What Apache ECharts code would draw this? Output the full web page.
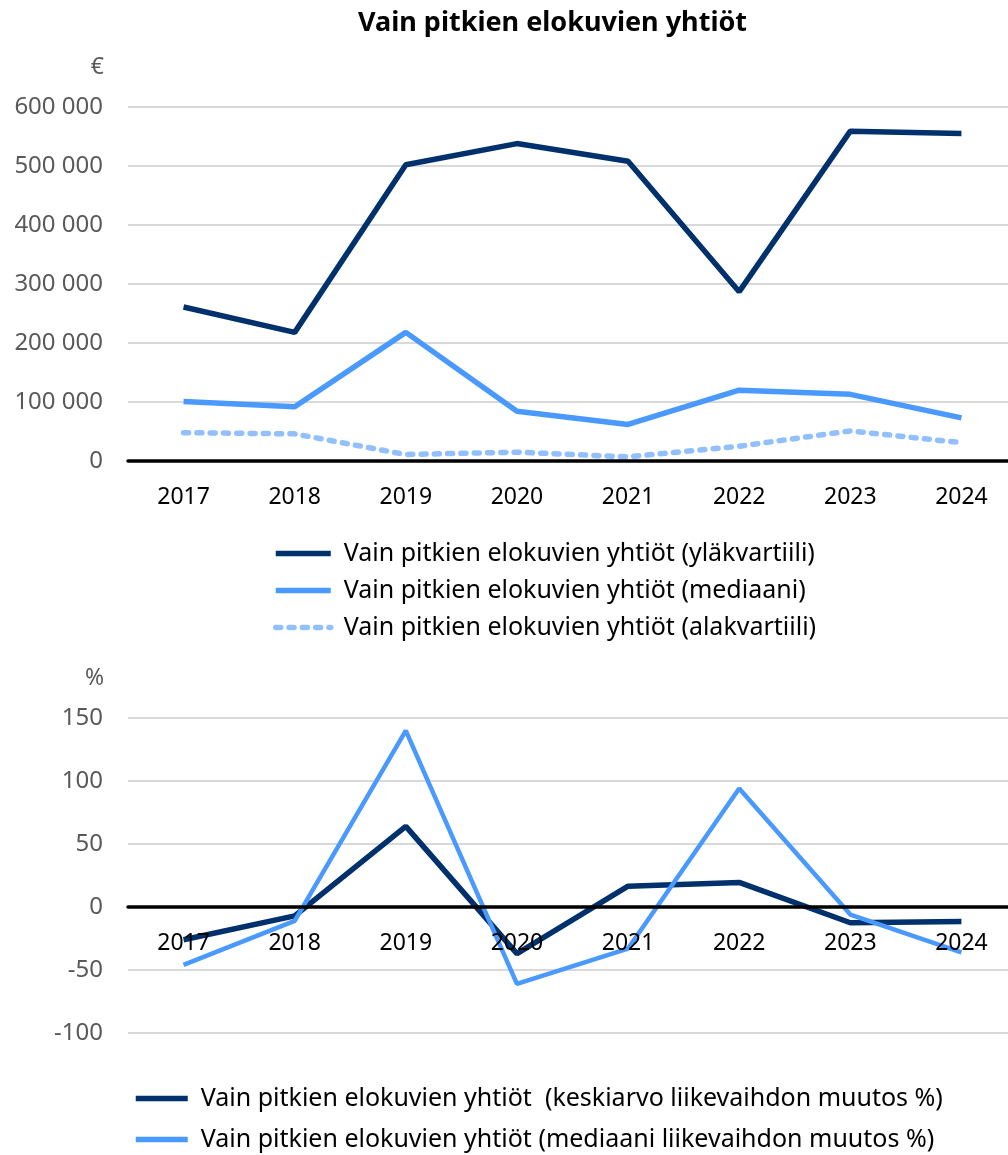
<!DOCTYPE html>
<html>
<head>
<meta charset="utf-8">
<script src="https://cdn.jsdelivr.net/npm/echarts@6/dist/echarts.min.js"></script>
<style>
  html, body { margin: 0; padding: 0; background: #fff; }
  #chart { width: 1008px; height: 1155px; }
</style>
</head>
<body>
<div id="chart"></div>
<script>
// vuodet
var years = ["2017", "2018", "2019", "2020", "2021", "2022", "2023", "2024"];

// liikevaihto, €
var ylakvartiili = [261000, 218000, 502000, 538000, 508000, 287000, 559000, 555000];
var mediaani = [101000, 92000, 218000, 84500, 62000, 120000, 113000, 73000];
var alakvartiili = [48000, 46000, 11000, 15000, 7000, 25000, 51000, 31000];

// liikevaihdon muutos, %
var keskiarvoMuutos = [-26, -7, 64, -37, 16.5, 19.5, -12.5, -11.5];
var mediaaniMuutos = [-46, -11, 140, -61, -33, 94, -6, -36];

var nimiYla = "Vain pitkien elokuvien yhtiöt (yläkvartiili)";
var nimiMed = "Vain pitkien elokuvien yhtiöt (mediaani)";
var nimiAla = "Vain pitkien elokuvien yhtiöt (alakvartiili)";
var nimiKa = "Vain pitkien elokuvien yhtiöt  (keskiarvo liikevaihdon muutos %)";
var nimiMedM = "Vain pitkien elokuvien yhtiöt (mediaani liikevaihdon muutos %)";

var font = "Noto Sans";
var tumma = "#00316d";
var keski = "#4a99ff";
var vaalea = "#92c0ff";

function xAkseli(gridIndex, offset) {
  return {
    type: "category",
    gridIndex: gridIndex,
    data: years,
    z: 5,
    offset: offset,
    axisLine: { show: true, onZero: false, lineStyle: { color: "#000", width: 3.5 } },
    axisTick: { show: false },
    axisLabel: { color: "#000", fontFamily: font, fontSize: 23, margin: 25 }
  };
}

function yAkseli(gridIndex, min, max, interval, nimi, fmt) {
  return {
    type: "value",
    gridIndex: gridIndex,
    min: min,
    max: max,
    interval: interval,
    name: nimi,
    nameLocation: "end",
    nameGap: 28,
    nameTextStyle: { color: "#595959", fontFamily: font, fontSize: 23, align: "right", padding: [0, 24, 0, 0] },
    axisLine: { show: false },
    axisTick: { show: false },
    axisLabel: { color: "#595959", fontFamily: font, fontSize: 24, margin: 25, formatter: fmt },
    splitLine: { show: true, lineStyle: { color: "#d9d9d9", width: 2 } }
  };
}

var chart = echarts.init(document.getElementById("chart"));

var legendiTyyli = {
  orient: "vertical",
  padding: 0,
  itemHeight: 25,
  itemStyle: { opacity: 0 },
  lineStyle: { width: 5.5 },
  textStyle: { color: "#000", fontFamily: font, fontSize: 25, padding: [0, 0, 0, 8] }
};

var option = {
  animation: false,
  backgroundColor: "#fff",
  title: {
    text: "Vain pitkien elokuvien yhtiöt",
    left: 358,
    top: 10,
    padding: 0,
    textStyle: { fontFamily: font, fontSize: 27, fontWeight: "bold", color: "#000" }
  },
  grid: [
    { left: 128, top: 107, width: 889, height: 354, outerBoundsMode: "none" },
    { left: 128, top: 718, width: 889, height: 315, outerBoundsMode: "none" }
  ],
  xAxis: [xAkseli(0, 0), xAkseli(1, -126)],
  yAxis: [
    yAkseli(0, 0, 600000, 100000, "€", function (v) {
      return String(v).replace(/\B(?=(\d{3})+(?!\d))/g, " ");
    }),
    yAkseli(1, -100, 150, 50, "%", null)
  ],
  legend: [
    Object.assign({}, legendiTyyli, {
      left: 273,
      top: 541,
      itemWidth: 55,
      itemGap: 12,
      data: [nimiYla, nimiMed, nimiAla]
    }),
    Object.assign({}, legendiTyyli, {
      left: 133,
      top: 1086,
      itemWidth: 52,
      itemGap: 16,
      data: [nimiKa, nimiMedM]
    })
  ],
  series: [
    {
      name: nimiYla, type: "line", xAxisIndex: 0, yAxisIndex: 0,
      data: ylakvartiili, symbol: "none", color: tumma,
      lineStyle: { color: tumma, width: 5.5 }
    },
    {
      name: nimiMed, type: "line", xAxisIndex: 0, yAxisIndex: 0,
      data: mediaani, symbol: "none", color: keski,
      lineStyle: { color: keski, width: 5.5 }
    },
    {
      name: nimiAla, type: "line", xAxisIndex: 0, yAxisIndex: 0,
      data: alakvartiili, symbol: "none", color: vaalea,
      lineStyle: { color: vaalea, width: 5.5, type: [5, 8.3], cap: "round" }
    },
    {
      name: nimiKa, type: "line", xAxisIndex: 1, yAxisIndex: 1,
      data: keskiarvoMuutos, symbol: "none", color: tumma,
      lineStyle: { color: tumma, width: 5.5 }
    },
    {
      name: nimiMedM, type: "line", xAxisIndex: 1, yAxisIndex: 1,
      data: mediaaniMuutos, symbol: "none", color: keski,
      lineStyle: { color: keski, width: 4.5 }
    }
  ]
};

chart.setOption(option);
</script>
</body>
</html>
